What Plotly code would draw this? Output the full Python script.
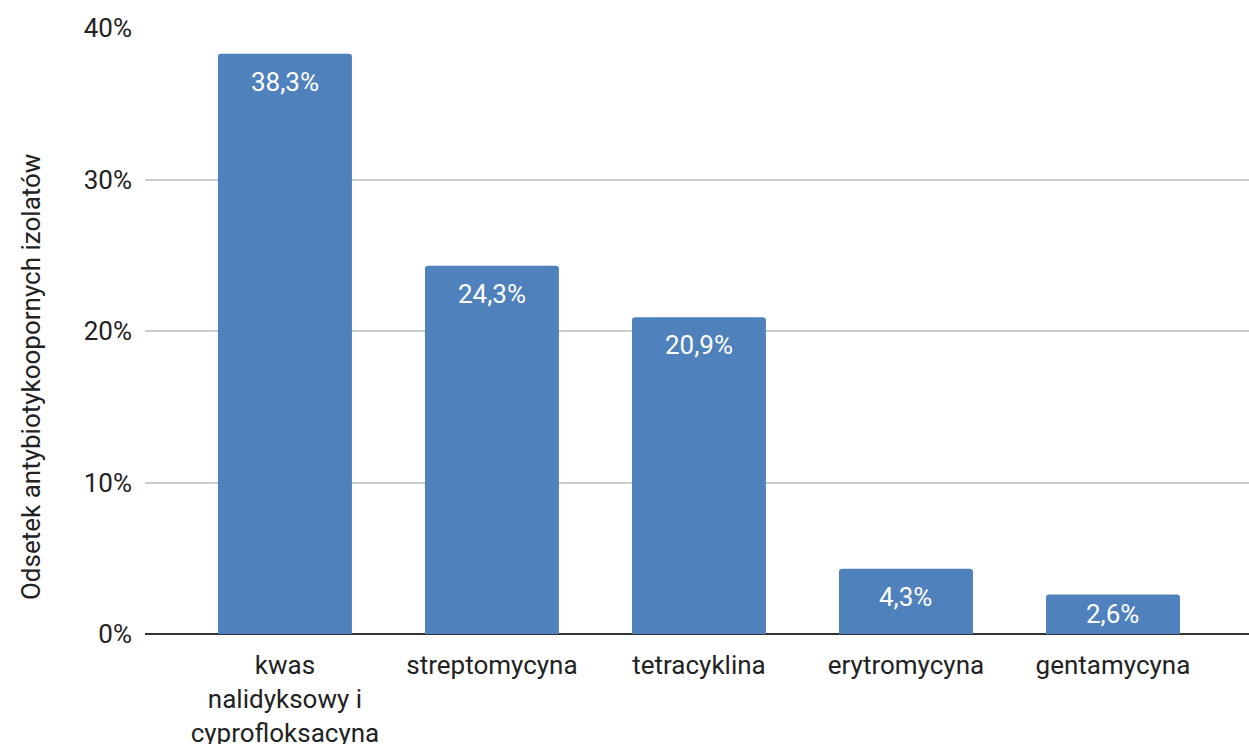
import plotly.graph_objects as go

# Odsetek izolatów opornych na poszczególne antybiotyki
categories = ["kwas<br>nalidyksowy i<br>cyprofloksacyna", "streptomycyna",
              "tetracyklina", "erytromycyna", "gentamycyna"]
values = [38.3, 24.3, 20.9, 4.3, 2.6]
y_ticks = [0, 10, 20, 30, 40]
y_tick_text = [f"{t}%" for t in y_ticks]

labels = [f"{v:.1f}".replace(".", ",") + "%" for v in values]

FONT = "Roboto, Arial, sans-serif"
SIZE = 26
BAR = "#4f81bd"
TXT = "#222222"

H, M_T, M_B = 744, 28, 110
Y_MAX = 40
px_per_unit = (H - M_T - M_B) / Y_MAX

fig = go.Figure()
fig.add_trace(go.Bar(
    x=list(range(len(categories))),
    y=values,
    width=0.647,
    marker=dict(color=BAR, line=dict(width=0), cornerradius=3),
    hoverinfo="skip",
))

# value labels sit near the bar top; on short bars they move to the middle
for i, (v, t) in enumerate(zip(values, labels)):
    fig.add_annotation(
        x=i, y=v, text=t, showarrow=False, yanchor="middle",
        yshift=-min(28, v * px_per_unit / 2),
        font=dict(family=FONT, size=SIZE, color="white"),
    )

# y-axis title
fig.add_annotation(
    xref="paper", yref="paper", x=-0.1033, y=0.424,
    xanchor="center", yanchor="middle", textangle=-90, showarrow=False,
    text="Odsetek antybiotykoopornych izolatów",
    font=dict(family=FONT, size=SIZE, color=TXT),
)

fig.update_layout(
    width=1249, height=H,
    margin=dict(l=145, r=0, t=M_T, b=M_B, autoexpand=False),
    paper_bgcolor="white", plot_bgcolor="white",
    showlegend=False,
    font=dict(family=FONT, size=SIZE, color=TXT),
)
fig.update_xaxes(
    range=[-0.676, 4.657],
    tickmode="array",
    tickvals=list(range(len(categories))),
    ticktext=categories,
    showgrid=False, zeroline=False,
    showline=False, ticks="",
    ticklabelstandoff=13,
    automargin=False,
    tickfont=dict(family=FONT, size=SIZE, color=TXT),
)
fig.update_yaxes(
    range=[0, Y_MAX],
    tickmode="array",
    tickvals=y_ticks,
    ticktext=y_tick_text,
    showgrid=True, gridcolor="#cccccc", gridwidth=1.5,
    zeroline=True, zerolinecolor="#333333", zerolinewidth=2,
    showline=False, ticks="",
    ticklabelstandoff=12,
    automargin=False,
    tickfont=dict(family=FONT, size=SIZE, color=TXT),
)

fig.write_html("out.html")
